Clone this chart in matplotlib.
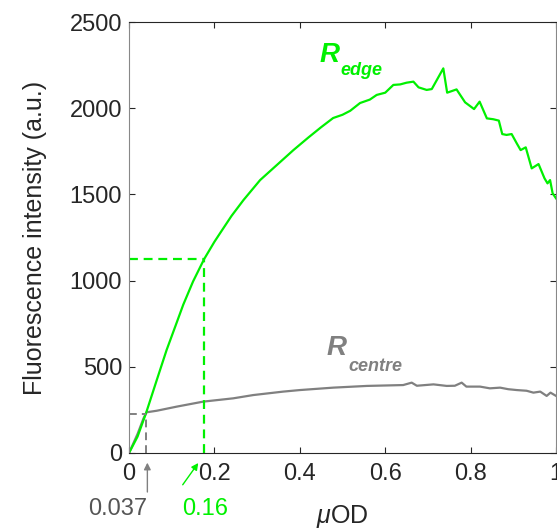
import matplotlib.pyplot as plt

plt.rcParams['font.family'] = ['Liberation Sans', 'DejaVu Sans']
plt.rcParams['mathtext.fontset'] = 'custom'
plt.rcParams['mathtext.it'] = 'Liberation Sans:italic'
plt.rcParams['mathtext.rm'] = 'Liberation Sans'

# R_edge (green)
edge_x = [0, 0.02, 0.04, 0.065, 0.088, 0.11, 0.127, 0.15, 0.176, 0.2, 0.213,
          0.24, 0.268, 0.307, 0.346, 0.385, 0.42, 0.45, 0.478, 0.5, 0.518,
          0.541, 0.564, 0.58, 0.6, 0.619, 0.635, 0.65, 0.666, 0.678, 0.697,
          0.709, 0.736, 0.745, 0.767, 0.787, 0.808, 0.821, 0.838, 0.853,
          0.866, 0.874, 0.884, 0.896, 0.908, 0.917, 0.929, 0.943, 0.959,
          0.973, 0.98, 0.986, 0.992, 1.0]
edge_y = [0, 95, 232, 423, 597, 745, 860, 995, 1125, 1225, 1274,
          1375, 1467, 1583, 1670, 1757, 1830, 1890, 1943, 1962, 1985,
          2030, 2050, 2077, 2090, 2135, 2138, 2148, 2154, 2121, 2106,
          2111, 2231, 2090, 2109, 2034, 1995, 2038, 1941, 1936,
          1928, 1850, 1845, 1850, 1796, 1757, 1773, 1651, 1676,
          1593, 1564, 1583, 1506, 1477]

# R_centre (grey)
centre_x = [0, 0.02, 0.034, 0.041, 0.065, 0.112, 0.174, 0.244, 0.291, 0.361,
            0.4, 0.478, 0.557, 0.642, 0.662, 0.674, 0.713, 0.744, 0.763,
            0.779, 0.79, 0.822, 0.845, 0.869, 0.888, 0.908, 0.931, 0.947,
            0.963, 0.978, 0.987, 1.0]
centre_y = [0, 110, 201, 236, 245, 269, 298, 317, 336, 356,
            365, 379, 389, 394, 408, 390, 398, 389, 390,
            408, 385, 385, 375, 379, 370, 365, 361, 350,
            356, 331, 350, 331]

# crossing points marked with dashed guides
cross_x = [0.04, 0.176]
cross_y = [228, 1125]
cross_labels = ['0.037', '0.16']

green = '#00f000'
grey = '#808080'

fig = plt.figure(figsize=(5.57, 5.29), dpi=100)
ax = fig.add_axes([0.2316, 0.1437, 0.7667, 0.8147])

ax.plot(centre_x, centre_y, color=grey, lw=1.6)
ax.plot(edge_x, edge_y, color=green, lw=1.6)

dash = (0, (4, 2.6))
ax.plot([0, cross_x[0]], [cross_y[0], cross_y[0]], color=grey, lw=1.4, ls=dash)
ax.plot([cross_x[0], cross_x[0]], [0, cross_y[0]], color=grey, lw=1.4, ls=dash)
ax.plot([0, cross_x[1]], [cross_y[1], cross_y[1]], color=green, lw=1.6, ls=dash)
ax.plot([cross_x[1], cross_x[1]], [0, cross_y[1]], color=green, lw=1.6, ls=dash)

ax.set_xlim(0, 1)
ax.set_ylim(0, 2500)
ax.set_xticks([0, 0.2, 0.4, 0.6, 0.8, 1])
ax.set_xticklabels(['0', '0.2', '0.4', '0.6', '0.8', '1'])
ax.set_yticks([0, 500, 1000, 1500, 2000, 2500])

ax.tick_params(direction='in', top=True, right=True, length=4, width=0.8,
               labelsize=17, colors='#262626')
ax.tick_params(axis='x', pad=7)
ax.tick_params(axis='y', pad=5)
for s in ['top', 'bottom']:
    ax.spines[s].set_color('#262626')
for s in ['left', 'right']:
    ax.spines[s].set_color('#888888')

ax.set_ylabel('Fluorescence intensity (a.u.)', fontsize=18, color='#262626', labelpad=16)
ax.set_xlabel(r'$\mu$OD', fontsize=18, color='#262626', labelpad=13)

# curve labels
ax.text(0.445, 2270, 'R', color=green, fontsize=20, fontweight='bold',
        style='italic', va='baseline', ha='left')
ax.text(0.494, 2193, 'edge', color=green, fontsize=13, fontweight='bold',
        style='italic', va='baseline', ha='left')
ax.text(0.463, 568, 'R', color=grey, fontsize=20, fontweight='bold',
        style='italic', va='baseline', ha='left')
ax.text(0.513, 476, 'centre', color=grey, fontsize=13, fontweight='bold',
        style='italic', va='baseline', ha='left')

# arrows below the axis pointing at the crossing values
tr = ax.get_xaxis_transform()
ax.annotate('', xy=(0.043, -0.016), xytext=(0.043, -0.097), xycoords=tr,
            textcoords=tr, annotation_clip=False,
            arrowprops=dict(arrowstyle='-|>', color=grey, lw=1.0,
                            mutation_scale=10))
ax.annotate('', xy=(0.166, -0.018), xytext=(0.122, -0.079), xycoords=tr,
            textcoords=tr, annotation_clip=False,
            arrowprops=dict(arrowstyle='-|>', color=green, lw=1.0,
                            mutation_scale=10))
ax.text(-0.026, -0.13, cross_labels[0], transform=ax.transAxes, color='#555555',
        fontsize=17, ha='center', va='center')
ax.text(0.178, -0.13, cross_labels[1], transform=ax.transAxes, color=green,
        fontsize=17, ha='center', va='center')

fig.savefig('out.png', dpi=100)
